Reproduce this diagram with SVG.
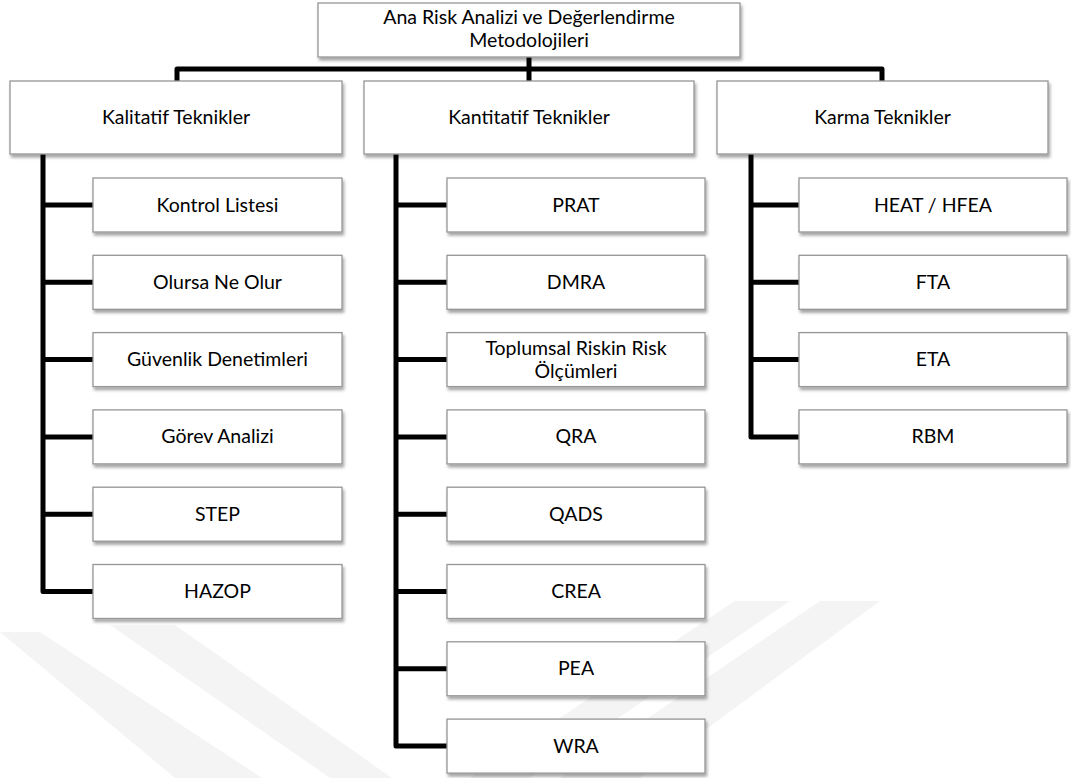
<svg xmlns="http://www.w3.org/2000/svg" width="1071" height="778" viewBox="0 0 1071 778">
<defs>
<filter id="sh" x="-5%" y="-10%" width="115%" height="130%">
<feDropShadow dx="1.5" dy="3" stdDeviation="1.6" flood-color="#000" flood-opacity="0.35"/>
</filter>
<style>
.box{fill:#fff;stroke:#959595;stroke-width:1.3;filter:url(#sh)}
.t{font-family:"Lato","Liberation Sans",sans-serif;font-size:19.5px;fill:#000;text-anchor:middle}
.c{fill:none;stroke:#000;stroke-width:5;stroke-linejoin:round;stroke-linecap:butt}
.wm{fill:#f4f4f4}
</style>
</defs>
<rect width="1071" height="778" fill="#fff"/>
<g id="watermark">
<polygon class="wm" points="0,632 40,632 262,778 175,778"/>
<polygon class="wm" points="110,625 175,625 392,778 330,778"/>
<polygon class="wm" points="820,601 880,601 640,778 560,778"/>
<polygon class="wm" points="735,601 790,601 530,778 470,778"/>
</g>
<g id="connectors">
<path class="c" d="M529,57 V81"/>
<path class="c" d="M177,81 V69 H882 V81"/>
<path class="c" d="M43,154 V591.5 H93 M43,205 H93 M43,282.3 H93 M43,359.6 H93 M43,436.9 H93 M43,514.2 H93"/>
<path class="c" d="M396,154 V746.1 H447 M396,205 H447 M396,282.3 H447 M396,359.6 H447 M396,436.9 H447 M396,514.2 H447 M396,591.5 H447 M396,668.8 H447"/>
<path class="c" d="M751,154 V436.9 H799 M751,205 H799 M751,282.3 H799 M751,359.6 H799"/>
</g>
<g id="root"><rect class="box" x="318" y="3" width="422" height="54"/><text class="t" x="529" y="24">Ana Risk Analizi ve Değerlendirme</text><text class="t" x="529" y="47">Metodolojileri</text></g>
<g id="kalitatif"><rect class="box" x="10" y="81" width="332" height="73"/><text class="t" x="176" y="124">Kalitatif Teknikler</text></g>
<g id="kantitatif"><rect class="box" x="364" y="81" width="330" height="73"/><text class="t" x="529" y="124">Kantitatif Teknikler</text></g>
<g id="karma"><rect class="box" x="717" y="81" width="331" height="73"/><text class="t" x="882.5" y="124">Karma Teknikler</text></g>

<g id="kontrol"><rect class="box" x="93" y="178" width="249" height="54"/><text class="t" x="217.5" y="211.5">Kontrol Listesi</text></g>
<g id="olursa"><rect class="box" x="93" y="255.3" width="249" height="54"/><text class="t" x="217.5" y="288.8">Olursa Ne Olur</text></g>
<g id="guvenlik"><rect class="box" x="93" y="332.6" width="249" height="54"/><text class="t" x="217.5" y="366.1">Güvenlik Denetimleri</text></g>
<g id="gorev"><rect class="box" x="93" y="409.9" width="249" height="54"/><text class="t" x="217.5" y="443.4">Görev Analizi</text></g>
<g id="step"><rect class="box" x="93" y="487.2" width="249" height="54"/><text class="t" x="217.5" y="520.7">STEP</text></g>
<g id="hazop"><rect class="box" x="93" y="564.5" width="249" height="54"/><text class="t" x="217.5" y="598">HAZOP</text></g>

<g id="prat"><rect class="box" x="447" y="178" width="258" height="54"/><text class="t" x="576" y="211.5">PRAT</text></g>
<g id="dmra"><rect class="box" x="447" y="255.3" width="258" height="54"/><text class="t" x="576" y="288.8">DMRA</text></g>
<g id="toplumsal"><rect class="box" x="447" y="332.6" width="258" height="54"/><text class="t" x="576" y="354.5">Toplumsal Riskin Risk</text><text class="t" x="576" y="378">Ölçümleri</text></g>
<g id="qra"><rect class="box" x="447" y="409.9" width="258" height="54"/><text class="t" x="576" y="443.4">QRA</text></g>
<g id="qads"><rect class="box" x="447" y="487.2" width="258" height="54"/><text class="t" x="576" y="520.7">QADS</text></g>
<g id="crea"><rect class="box" x="447" y="564.5" width="258" height="54"/><text class="t" x="576" y="598">CREA</text></g>
<g id="pea"><rect class="box" x="447" y="641.8" width="258" height="54"/><text class="t" x="576" y="675.3">PEA</text></g>
<g id="wra"><rect class="box" x="447" y="719.1" width="258" height="54"/><text class="t" x="576" y="752.6">WRA</text></g>

<g id="heat"><rect class="box" x="799" y="178" width="268" height="54"/><text class="t" x="933" y="211.5">HEAT / HFEA</text></g>
<g id="fta"><rect class="box" x="799" y="255.3" width="268" height="54"/><text class="t" x="933" y="288.8">FTA</text></g>
<g id="eta"><rect class="box" x="799" y="332.6" width="268" height="54"/><text class="t" x="933" y="366.1">ETA</text></g>
<g id="rbm"><rect class="box" x="799" y="409.9" width="268" height="54"/><text class="t" x="933" y="443.4">RBM</text></g>
</svg>
